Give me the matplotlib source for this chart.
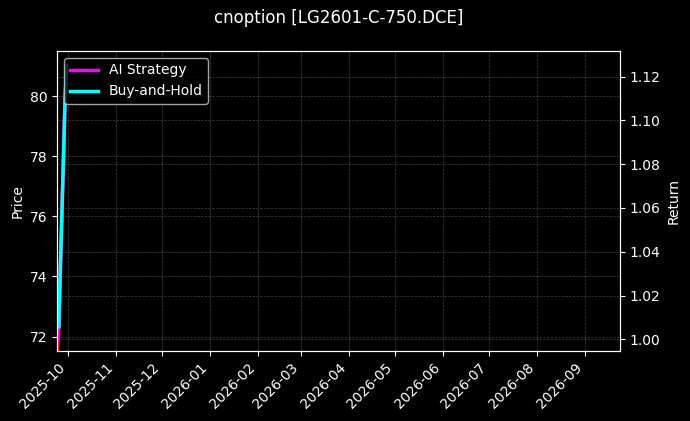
import numpy as np
import pandas as pd
import matplotlib
matplotlib.use("Agg")
import matplotlib.pyplot as plt
import matplotlib.dates as mdates

# backtest data (only a few bars at the start of the window)
dates = pd.to_datetime(["2025-09-24", "2025-09-25", "2025-09-26", "2025-09-29", "2025-09-30"])
price = [71.53, 72.12, 74.24, 79.76, 81.0]
strategy = [1.000, 1.0057, 1.032, 1.108, 1.125]
buy_hold = [np.nan, 1.0057, 1.032, 1.108, 1.125]

window = pd.to_datetime(["2025-09-24", "2026-09-24"])
title = "cnoption [LG2601-C-750.DCE]"

plt.style.use("dark_background")
fig = plt.figure(figsize=(6.9, 4.21), dpi=100)
ax1 = fig.add_axes([0.083, 0.167, 0.8156, 0.712])
ax2 = ax1.twinx()

ax1.plot(dates, price, color="red", linewidth=2.5)
l1, = ax2.plot(dates, strategy, color="magenta", linewidth=2.5, label="AI Strategy")
l2, = ax2.plot(dates, buy_hold, color="cyan", linewidth=2.5, label="Buy-and-Hold")

ax1.set_xlim(window[0], window[1])
ax1.set_ylim(71.53, 81.5)
ax2.set_ylim(0.9948, 1.1317)

ax1.xaxis.set_major_locator(mdates.MonthLocator())
ax1.xaxis.set_major_formatter(mdates.DateFormatter("%Y-%m"))
plt.setp(ax1.get_xticklabels(), rotation=45, ha="right")

for ax in (ax1, ax2):
    ax.grid(True, linestyle="--", linewidth=0.5, color="gray", alpha=0.5)

ax1.set_ylabel("Price")
ax2.set_ylabel("Return")

ax2.legend(handles=[l1, l2], loc="upper left", facecolor="black", edgecolor="0.8")
fig.text(0.4906, 0.957, title, ha="center", va="center", fontsize=12)

fig.savefig("out.png", dpi=100, facecolor="black")
